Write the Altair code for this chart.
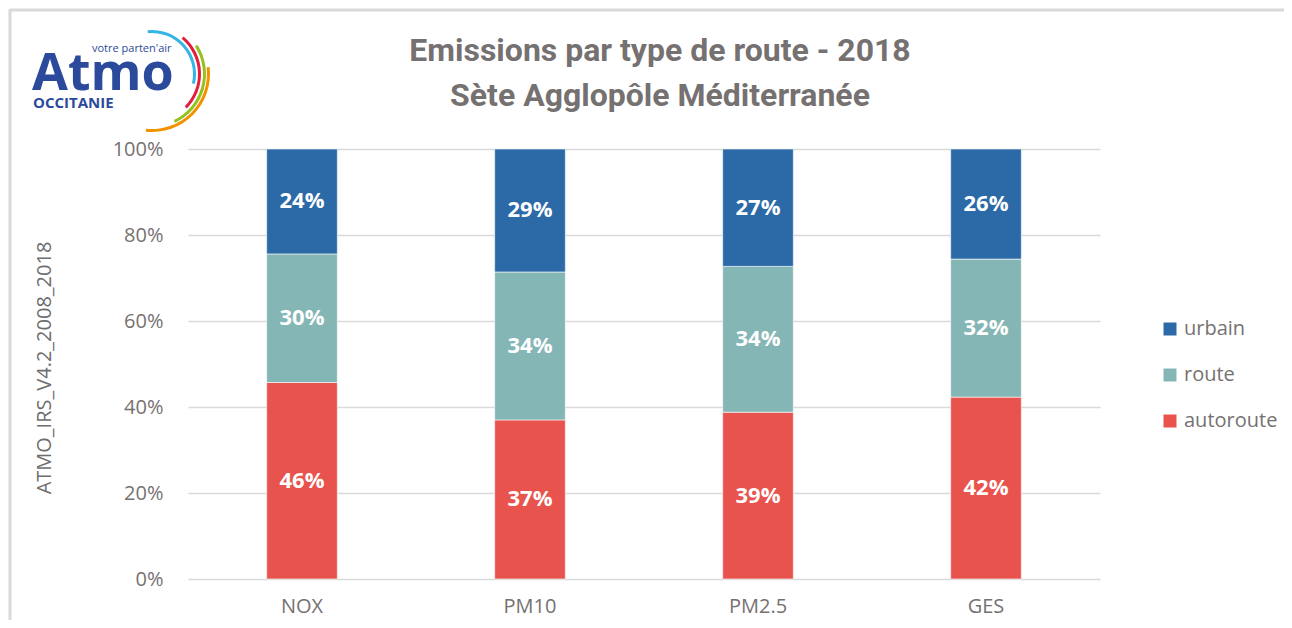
import altair as alt
import pandas as pd

categories = ["NOX", "PM10", "PM2.5", "GES"]
types = ["urbain", "route", "autoroute"]
colors = ["#2B6AA6", "#84B6B6", "#E8534E"]
autoroute = [45.7, 37.0, 38.8, 42.3]
route = [29.9, 34.4, 33.9, 32.1]
urbain = [24.4, 28.6, 27.3, 25.6]
y_ticks = [0, 0.2, 0.4, 0.6, 0.8, 1.0]
title_lines = ["Emissions par type de route - 2018", "Sète Agglopôle Méditerranée"]
y_title = "ATMO_IRS_V4.2_2008_2018"

series = {"autoroute": autoroute, "route": route, "urbain": urbain}
order_of = {"autoroute": 0, "route": 1, "urbain": 2}
rows = []
for t, vals in series.items():
    for c, v in zip(categories, vals):
        rows.append({"cat": c, "type": t, "v": v / 100.0, "ord": order_of[t]})
df = pd.DataFrame(rows)

W, H = 912, 430
TXT = "#767171"
FONT = "Open Sans"
TFONT = "Roboto"

x_enc = alt.X("cat:N", sort=categories,
              scale=alt.Scale(paddingInner=0.69, paddingOuter=0.345),
              axis=alt.Axis(labelAngle=0, domain=False, ticks=False, labelPadding=17,
                            labelFontSize=20, labelColor=TXT, labelFont=FONT, title=None, grid=False))

base = alt.Chart(df)

bars = base.mark_bar(stroke="white", strokeWidth=0.6).encode(
    x=x_enc,
    y=alt.Y("v:Q", stack="zero", scale=alt.Scale(domain=[0, 1], nice=False),
            axis=alt.Axis(format=".0%", values=y_ticks, grid=True, gridColor="#D9D9D9",
                          gridWidth=1.6, domain=False, ticks=False, labelPadding=25,
                          labelFontSize=20, labelColor=TXT, labelFont=FONT, title=None)),
    color=alt.Color("type:N", scale=alt.Scale(domain=types, range=colors),
                    legend=alt.Legend(title=None, orient="none", legendX=972, legendY=170,
                                      symbolType="square", symbolSize=169, symbolStrokeWidth=0,
                                      labelFontSize=20, labelColor=TXT, labelFont=FONT,
                                      rowPadding=26, labelOffset=4, padding=0)),
    order=alt.Order("ord:Q", sort="ascending"),
)

labels = base.transform_stack(
    stack="v", groupby=["cat"], as_=["v0", "v1"], sort=[alt.SortField("ord", order="ascending")]
).transform_calculate(mid="(datum.v0 + datum.v1) / 2").mark_text(
    color="white", fontSize=22, fontWeight="bold", font=FONT, baseline="middle"
).encode(
    x=alt.X("cat:N", sort=categories),
    y=alt.Y("mid:Q"),
    text=alt.Text("v:Q", format=".0%"),
)

title1 = alt.Chart(pd.DataFrame({"t": [title_lines[0]]})).mark_text(
    fontSize=32, fontWeight="bold", color=TXT, font=TFONT,
    baseline="middle", align="center"
).encode(text="t:N", x=alt.value(472), y=alt.value(-98))
title2 = alt.Chart(pd.DataFrame({"t": [title_lines[1]]})).mark_text(
    fontSize=32, fontWeight="bold", color=TXT, font=TFONT,
    baseline="middle", align="center"
).encode(text="t:N", x=alt.value(472), y=alt.value(-53))

ytitle = alt.Chart(pd.DataFrame({"t": [y_title]})).mark_text(
    fontSize=20, color="#6E6E6E", font=FONT, angle=270, baseline="middle", align="center"
).encode(text="t:N", x=alt.value(-143), y=alt.value(219))

# Frame lines
frame_top = alt.Chart(pd.DataFrame({"a": [0]})).mark_rule(color="#D9D9D9", strokeWidth=3).encode(
    x=alt.value(-178), x2=alt.value(1096), y=alt.value(-139))
frame_left = alt.Chart(pd.DataFrame({"a": [0]})).mark_rule(color="#D9D9D9", strokeWidth=3).encode(
    x=alt.value(-178), y=alt.value(-140), y2=alt.value(471))

# Logo approximation
LOGO = "#2B4A9B"
logo_atmo = alt.Chart(pd.DataFrame({"t": ["Atmo"]})).mark_text(
    fontSize=52, fontWeight="bold", color=LOGO, font="Open Sans", align="left", baseline="alphabetic"
).encode(text="t:N", x=alt.value(-156), y=alt.value(-59))
logo_occ = alt.Chart(pd.DataFrame({"t": ["OCCITANIE"]})).mark_text(
    fontSize=15, fontWeight="bold", color=LOGO, font="Open Sans", align="left", baseline="alphabetic"
).encode(text="t:N", x=alt.value(-155), y=alt.value(-41))
logo_votre = alt.Chart(pd.DataFrame({"t": ["votre parten'air"]})).mark_text(
    fontSize=11, color=LOGO, font="Open Sans", align="left", baseline="alphabetic"
).encode(text="t:N", x=alt.value(-96), y=alt.value(-97))

arc_rows = [
    {"c": "#33B5E5", "r": 44, "t0": -0.1, "t1": 1.8},
    {"c": "#E31E3C", "r": 49, "t0": 0.7, "t1": 2.35},
    {"c": "#95C11F", "r": 54, "t0": 1.0, "t1": 2.7},
    {"c": "#F39200", "r": 58, "t0": 1.45, "t1": 3.25},
]
arcs = alt.Chart(pd.DataFrame(arc_rows)).mark_arc(innerRadius=0).encode(
    theta=alt.Theta("t0:Q", scale=None),
    theta2="t1:Q",
    radius=alt.Radius("r:Q", scale=None),
    radius2=alt.Radius2("r2:Q"),
    color=alt.Color("c:N", scale=None, legend=None),
    x=alt.value(-36), y=alt.value(-75),
).transform_calculate(r2="datum.r - 3")

chart = alt.layer(
    frame_top, frame_left, bars, labels, title1, title2, ytitle, arcs, logo_atmo, logo_occ, logo_votre
).properties(
    width=W, height=H,
    autosize=alt.AutoSizeParams(type="none"),
    padding={"left": 180, "top": 141, "right": 184, "bottom": 41},
).configure_view(stroke=None).configure_axis(labelFont=FONT)

chart.save("out.html", embed_options={"renderer": "svg", "actions": False})
